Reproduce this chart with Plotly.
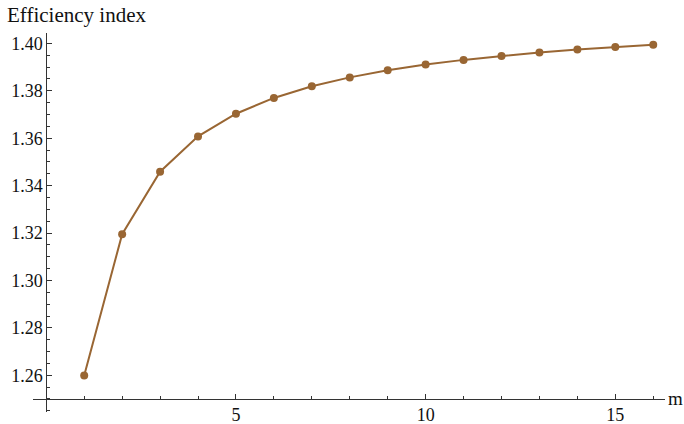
import plotly.graph_objects as go

# Data
m_values = list(range(1, 17))
efficiency = [1.25992, 1.31951, 1.34590, 1.36078, 1.37035, 1.37701, 1.38191, 1.38567,
              1.38865, 1.39107, 1.39306, 1.39474, 1.39617, 1.39741, 1.39849, 1.39943]
x_tick_vals = [5, 10, 15]
y_tick_vals = [1.26, 1.28, 1.30, 1.32, 1.34, 1.36, 1.38, 1.40]
y_tick_text = ["1.26", "1.28", "1.30", "1.32", "1.34", "1.36", "1.38", "1.40"]

color = "#996633"
axis_color = "#333333"
font_family = "Liberation Serif"

x_range = [-0.35, 16.31]
y_range = [1.2445, 1.4044]
x_axis_y = 1.25
y_axis_x = 0.0

fig = go.Figure()
fig.add_trace(go.Scatter(
    x=m_values, y=efficiency, mode="lines+markers",
    line=dict(color=color, width=2),
    marker=dict(color=color, size=8),
    showlegend=False, hoverinfo="x+y",
))

fig.update_layout(
    width=684, height=424,
    margin=dict(l=33, r=19, t=33, b=12, autoexpand=False),
    plot_bgcolor="white", paper_bgcolor="white",
    font=dict(family=font_family, size=18, color="#111111"),
    xaxis=dict(
        range=x_range, domain=[0, 1], automargin=False,
        anchor="free", position=(x_axis_y - y_range[0]) / (y_range[1] - y_range[0]),
        showline=True, linecolor=axis_color, linewidth=1,
        showgrid=False, zeroline=False,
        tickmode="array", tickvals=x_tick_vals,
        ticks="inside", ticklen=5, tickwidth=1, tickcolor=axis_color,
        ticklabelstandoff=-1,
        minor=dict(tick0=0, dtick=1, ticks="inside", ticklen=3, tickwidth=1,
                   tickcolor=axis_color, showgrid=False),
        tickfont=dict(family=font_family, size=18, color="#111111"),
    ),
    yaxis=dict(
        range=y_range, domain=[0, 1], automargin=False,
        anchor="free", position=(y_axis_x - x_range[0]) / (x_range[1] - x_range[0]),
        side="left",
        showline=True, linecolor=axis_color, linewidth=1,
        showgrid=False, zeroline=False,
        tickmode="array", tickvals=y_tick_vals, ticktext=y_tick_text,
        ticks="inside", ticklen=5, tickwidth=1, tickcolor=axis_color,
        minor=dict(tick0=1.25, dtick=0.005, ticks="inside", ticklen=3, tickwidth=1,
                   tickcolor=axis_color, showgrid=False),
        tickfont=dict(family=font_family, size=18, color="#111111"),
    ),
    annotations=[
        dict(text="Efficiency index", xref="paper", yref="paper",
             x=-28 / 632, y=1 + 18 / 379, xanchor="left", yanchor="middle",
             showarrow=False, font=dict(family=font_family, size=21, color="#111111")),
        dict(text="m", xref="paper", yref="y",
             x=1.002, y=x_axis_y, xanchor="left", yanchor="middle",
             showarrow=False, font=dict(family=font_family, size=19, color="#111111")),
    ],
)

fig.write_html("out.html", config={"displayModeBar": False},
               post_script="document.body.style.margin='0px';")
